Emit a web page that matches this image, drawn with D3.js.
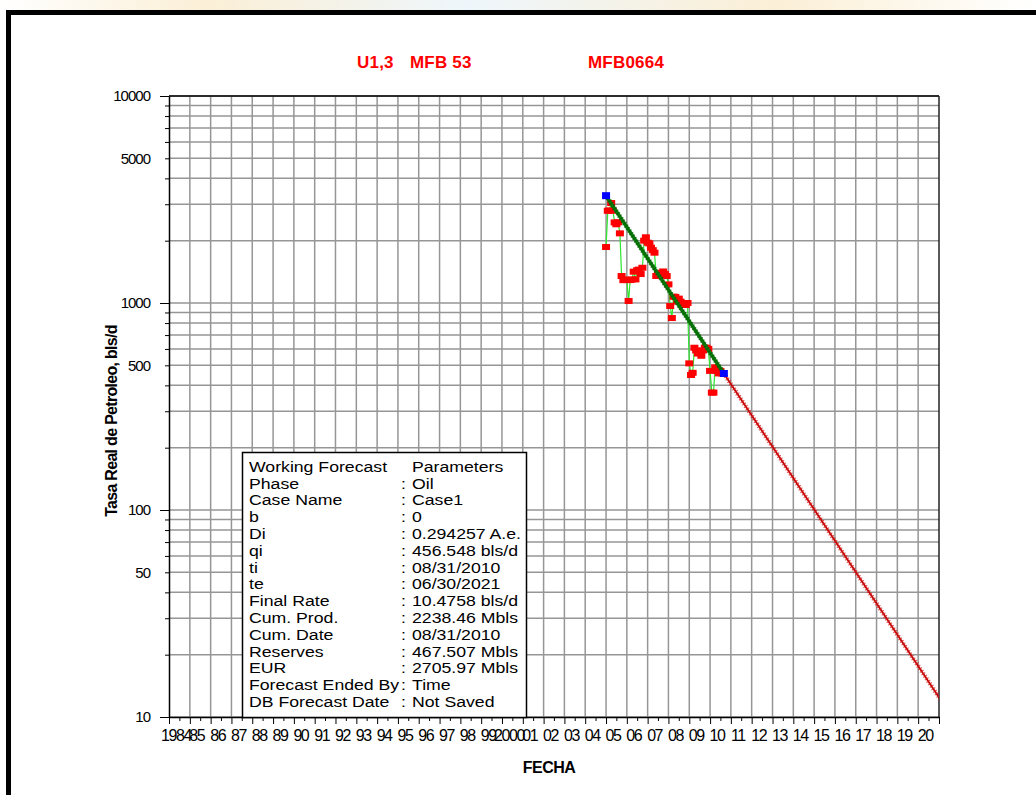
<!DOCTYPE html>
<html>
<head>
<meta charset="utf-8">
<script src="https://cdnjs.cloudflare.com/ajax/libs/d3/7.8.5/d3.min.js"></script>
<style>
  body { margin: 0; background: #fff; }
  svg { display: block; font-family: "Liberation Sans", Arial, sans-serif; }
</style>
</head>
<body>
<svg id="chart" width="1036" height="795"></svg>
<script>
// titles
var titleParts = ["U1,3", "MFB 53", "MFB0664"];

// x tick labels, one per year 1984..2020
var yearLabels = ["1984","85","86","87","88","89","90","91","92","93","94","95","96","97","98","99",
  "2000","01","02","03","04","05","06","07","08","09","10","11","12","13","14","15","16","17","18","19","20"];
var yLabels = [10, 50, 100, 500, 1000, 5000, 10000];

// monthly oil rate, bls/d, starting Jan 2005
var histStart = "2005-01-01";
var histRate = [1864, 2790, 2800, 3040, 2790, 2450, 2400, 2454, 2170, 1350,
  1290, 1300, 1290, 1023, 1291, 1300, 1417, 1300, 1440, 1450,
  1380, 1480, 2000, 2077, 1956, 1940, 1850, 1800, 1750, 1350,
  1380, 1360, 1400, 1420, 1380, 1350, 1230, 967, 846, 1073,
  1070, 1015, 1050, 1015, 978, 980, 978, 1000, 511, 449,
  460, 608, 590, 570, 582, 556, 590, 608, 608, 600,
  470, 369, 369, 489, 470, 457, 470, 457];

// fitted decline over the history and the forecast
var fitDates = ["2005-01-01", "2010-08-31"];
var fitRate = [3300, 456.548];
var fcstDates = ["2010-08-31", "2021-06-30"];
var fcstRate = [456.548, 10.4758];

var legendNames = ["Working Forecast","Phase","Case Name","b","Di","qi","ti","te","Final Rate",
  "Cum. Prod.","Cum. Date","Reserves","EUR","Forecast Ended By","DB Forecast Date"];
var legendValues = ["Parameters","Oil","Case1","0","0.294257 A.e.","456.548 bls/d","08/31/2010",
  "06/30/2021","10.4758 bls/d","2238.46 Mbls","08/31/2010","467.507 Mbls","2705.97 Mbls","Time","Not Saved"];

var svg = d3.select("#chart");
var parse = d3.timeParse("%Y-%m-%d");

var pLeft = 169, pRight = 939, pTop = 96, pBottom = 717;

var x = d3.scaleTime()
    .domain([new Date(1984, 0, 1), new Date(2021, 0, 1)])
    .range([pLeft, pRight]);
var y = d3.scaleLog()
    .domain([10, 10000])
    .range([pBottom, pTop]);

// faint strip above the frame
var defs = svg.append("defs");
var grad = defs.append("linearGradient").attr("id", "strip");
grad.append("stop").attr("offset", "0%").attr("stop-color", "#fff");
grad.append("stop").attr("offset", "20%").attr("stop-color", "#fbefd6");
grad.append("stop").attr("offset", "45%").attr("stop-color", "#eef6fb");
grad.append("stop").attr("offset", "75%").attr("stop-color", "#fbefd6");
grad.append("stop").attr("offset", "100%").attr("stop-color", "#fff");
defs.append("clipPath").attr("id", "plotclip")
  .append("rect").attr("x", pLeft).attr("y", pTop).attr("width", pRight - pLeft).attr("height", pBottom - pTop);

svg.append("rect").attr("x", 0).attr("y", 0).attr("width", 1036).attr("height", 11)
   .style("fill", "url(#strip)");

// outer frame
svg.append("path")
   .attr("d", "M8.5,800 L8.5,12.5 L1040,12.5")
   .style("fill", "none").style("stroke", "#000").style("stroke-width", 5);

// titles
var titleX = [357, 410, 588];
svg.append("g").selectAll("text")
  .data(titleParts)
  .enter().append("text")
  .attr("x", function(d, i) { return titleX[i]; })
  .attr("y", 68)
  .style("font-size", "17px").style("font-weight", "bold").style("fill", "#ff0000")
  .style("letter-spacing", "0.2px")
  .text(function(d) { return d; });

// grid
var grid = svg.append("g").style("stroke", "#969696").style("stroke-width", 1.5);
grid.selectAll("line.v")
  .data(d3.timeYear.range(new Date(1985, 0, 1), new Date(2021, 0, 1)))
  .enter().append("line")
  .attr("x1", function(d) { return x(d); })
  .attr("x2", function(d) { return x(d); })
  .attr("y1", pTop).attr("y2", pBottom);
grid.selectAll("line.h")
  .data(y.ticks())
  .enter().append("line")
  .attr("x1", pLeft).attr("x2", pRight)
  .attr("y1", function(d) { return y(d); })
  .attr("y2", function(d) { return y(d); });

// frame of the plot
svg.append("line").attr("x1", pLeft).attr("x2", pRight).attr("y1", pTop).attr("y2", pTop)
   .style("stroke", "#000").style("stroke-width", 1.5);
svg.append("line").attr("x1", pRight).attr("x2", pRight).attr("y1", pTop).attr("y2", pBottom)
   .style("stroke", "#222").style("stroke-width", 1.5);

// y axis
var yAxis = svg.append("g")
  .attr("transform", "translate(" + pLeft + ",0)")
  .call(d3.axisLeft(y).tickValues(y.ticks()).tickSizeOuter(0).tickSizeInner(4)
    .tickFormat(function(d) { return yLabels.indexOf(d) >= 0 ? d : ""; }));
yAxis.select(".domain").style("stroke", "#000").style("stroke-width", 1.5);
yAxis.selectAll(".tick line")
  .attr("x2", function(d) { return Math.abs(Math.log10(d) % 1) < 1e-9 ? -9 : -4; })
  .style("stroke", "#000");
yAxis.selectAll(".tick text")
  .attr("x", -19)
  .style("font-size", "15px").style("letter-spacing", "-1px").style("fill", "#000")
  .style("font-family", "'Liberation Sans', Arial, sans-serif");

// x axis
var xAxis = svg.append("g")
  .attr("transform", "translate(0," + pBottom + ")")
  .call(d3.axisBottom(x).tickValues(d3.timeMonth.every(6).range(new Date(1984, 0, 1), new Date(2021, 0, 2)))
    .tickSizeOuter(0).tickSizeInner(4).tickFormat(""));
xAxis.select(".domain").style("stroke", "#000").style("stroke-width", 1.5);
xAxis.selectAll(".tick line")
  .attr("y2", function(d) { return d.getMonth() === 0 ? 7 : 4; })
  .style("stroke", "#000");

svg.append("g").selectAll("text")
  .data(yearLabels)
  .enter().append("text")
  .attr("x", function(d, i) { return x(new Date(1984 + i, 0, 1)) + 7; })
  .attr("y", 741)
  .attr("text-anchor", "middle")
  .style("font-size", "16px").style("letter-spacing", "-1.4px")
  .text(function(d) { return d; });

// axis titles
svg.append("text")
  .attr("transform", "translate(117,421) rotate(-90)")
  .attr("text-anchor", "middle")
  .style("font-size", "16px").style("font-weight", "bold").style("letter-spacing", "-0.7px")
  .text("Tasa Real de Petroleo, bls/d");
svg.append("text")
  .attr("x", 549).attr("y", 773)
  .attr("text-anchor", "middle")
  .style("font-size", "16px").style("font-weight", "bold").style("letter-spacing", "-0.5px")
  .text("FECHA");

// legend box
var legend = svg.append("g");
legend.append("rect")
  .attr("x", 242.5).attr("y", 452.5).attr("width", 284).attr("height", 265)
  .style("fill", "#fff").style("stroke", "#000").style("stroke-width", 1.5);
legendNames.forEach(function(name, i) {
  var yy = 471.7 + i * 16.8;
  legend.append("text")
    .attr("transform", "translate(249," + yy + ") scale(1.14,1)")
    .style("font-size", "15.5px").text(name);
  if (i > 0) {
    legend.append("text")
      .attr("transform", "translate(401," + yy + ") scale(1.14,1)")
      .style("font-size", "15.5px").text(":");
  }
  legend.append("text")
    .attr("transform", "translate(412," + yy + ") scale(1.14,1)")
    .style("font-size", "15.5px").text(legendValues[i]);
});

// history
var start = parse(histStart);
var hist = histRate.map(function(v, i) { return { date: d3.timeMonth.offset(start, i), rate: v }; });
var line = d3.line()
  .x(function(d) { return x(d.date); })
  .y(function(d) { return y(d.rate); });

var data = svg.append("g").attr("clip-path", "url(#plotclip)");

data.append("path").datum(hist)
  .attr("d", line)
  .style("fill", "none").style("stroke", "#2ee62e").style("stroke-width", 1.2);

data.selectAll("rect.h")
  .data(hist)
  .enter().append("rect")
  .attr("x", function(d) { return x(d.date) - 4; })
  .attr("y", function(d) { return y(d.rate) - 3; })
  .attr("width", 8).attr("height", 6)
  .style("fill", "#ff0000");

// fitted decline
var fit = fitDates.map(function(d, i) { return { date: parse(d), rate: fitRate[i] }; });
data.append("path").datum(fit)
  .attr("d", line)
  .style("fill", "none").style("stroke", "#087a08").style("stroke-width", 3.5);
data.append("path").datum(fit)
  .attr("d", line)
  .style("fill", "none").style("stroke", "#005a00").style("stroke-width", 5)
  .style("stroke-dasharray", "1 2").style("opacity", 0.7);

// forecast
var fcst = fcstDates.map(function(d, i) { return { date: parse(d), rate: fcstRate[i] }; });
data.append("path").datum(fcst)
  .attr("d", line)
  .style("fill", "none").style("stroke", "#c00000").style("stroke-width", 1.8);
data.append("path").datum(fcst)
  .attr("d", line)
  .style("fill", "none").style("stroke", "#d82020").style("stroke-width", 4.5)
  .style("stroke-dasharray", "1.2 1.8").style("opacity", 0.75);

// start and end of the fit
data.selectAll("rect.b")
  .data(fit)
  .enter().append("rect")
  .attr("x", function(d) { return x(d.date) - 4; })
  .attr("y", function(d) { return y(d.rate) - 3.5; })
  .attr("width", 8).attr("height", 7)
  .style("fill", "#0000ff");
</script>
</body>
</html>
